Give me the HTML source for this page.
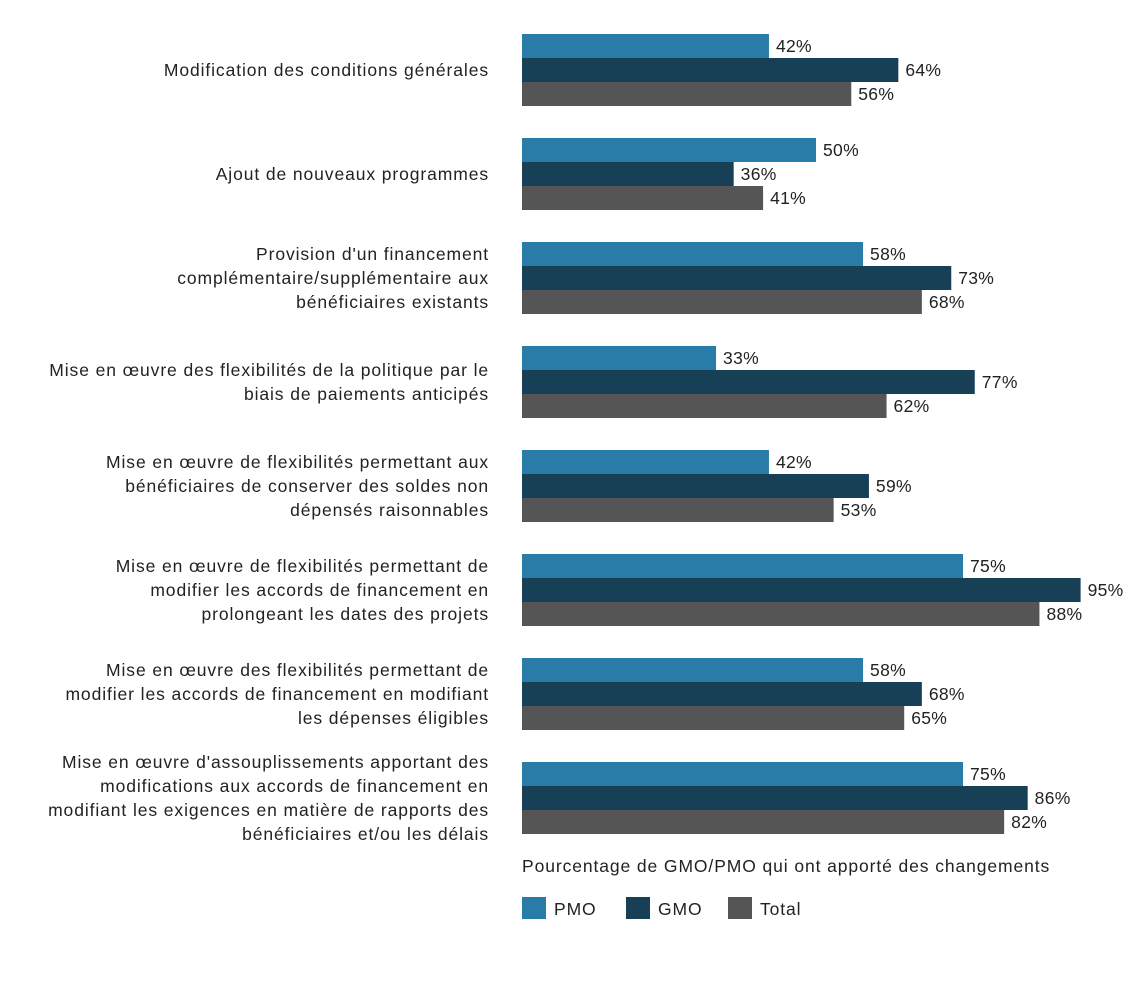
<!DOCTYPE html>
<html><head><meta charset="utf-8"><style>
body{margin:0;background:#fff;}
svg text{font-family:"Liberation Sans",sans-serif;font-size:17.5px;letter-spacing:0.9px;fill:#222;}
svg text.val{letter-spacing:0.3px;}
</style></head><body>
<svg id="chart" width="1140" height="1000"></svg>
<script>
const categories=[
["Modification des conditions générales"],
["Ajout de nouveaux programmes"],
["Provision d'un financement","complémentaire/supplémentaire aux","bénéficiaires existants"],
["Mise en œuvre des flexibilités de la politique par le","biais de paiements anticipés"],
["Mise en œuvre de flexibilités permettant aux","bénéficiaires de conserver des soldes non","dépensés raisonnables"],
["Mise en œuvre de flexibilités permettant de","modifier les accords de financement en","prolongeant les dates des projets"],
["Mise en œuvre des flexibilités permettant de","modifier les accords de financement en modifiant","les dépenses éligibles"],
["Mise en œuvre d'assouplissements apportant des","modifications aux accords de financement en","modifiant les exigences en matière de rapports des","bénéficiaires et/ou les délais"]
];
const pmo=[42,50,58,33,42,75,58,75];
const gmo=[64,36,73,77,59,95,68,86];
const total=[56,41,68,62,53,88,65,82];
const seriesNames=["PMO","GMO","Total"];
const colors=["#2a7ca8","#173f55","#555555"];
const NS="http://www.w3.org/2000/svg";
const svg=document.getElementById('chart');
const x0=522,pxPer=5.88,top0=34,groupStep=104,barH=24;
const xScale=v=>x0+v*pxPer;
const yGroup=i=>top0+i*groupStep;
function mk(tag,attrs,parent){const e=document.createElementNS(NS,tag);for(const k in attrs)e.setAttribute(k,attrs[k]);(parent||svg).appendChild(e);return e;}
const series=[pmo,gmo,total];
categories.forEach((lines,i)=>{
  const g=mk('g',{});
  
  
  const cy=yGroup(i)+36;
  const lh=24;
  const t=mk('text',{x:489,'text-anchor':'end'},g);
  
  
  lines.forEach((ln,j)=>{const ts=mk('tspan',{x:489,y:cy-(lines.length-1)*lh/2+j*lh+6},t);ts.textContent=ln;});
  series.forEach((s,k)=>{
    const y=yGroup(i)+k*barH;
    const r=mk('rect',{x:x0,y:y,width:xScale(s[i])-x0,height:barH,fill:colors[k]},g);
    
    
    const vl=mk('text',{x:xScale(s[i])+7,y:y+barH/2+6,'class':'val'},g);
    
    
    vl.textContent=s[i]+'%';
  });
});
const at=mk('text',{x:522,y:872});


at.textContent="Pourcentage de GMO/PMO qui ont apporté des changements";
const legX=[522,626,728];
seriesNames.forEach((n,k)=>{
  const lg=mk('g',{});
  
  
  mk('rect',{x:legX[k],y:897,width:24,height:22,fill:colors[k]},lg);
  const t=mk('text',{x:legX[k]+32,y:915},lg);
  t.textContent=n;
});
</script>
</body></html>
